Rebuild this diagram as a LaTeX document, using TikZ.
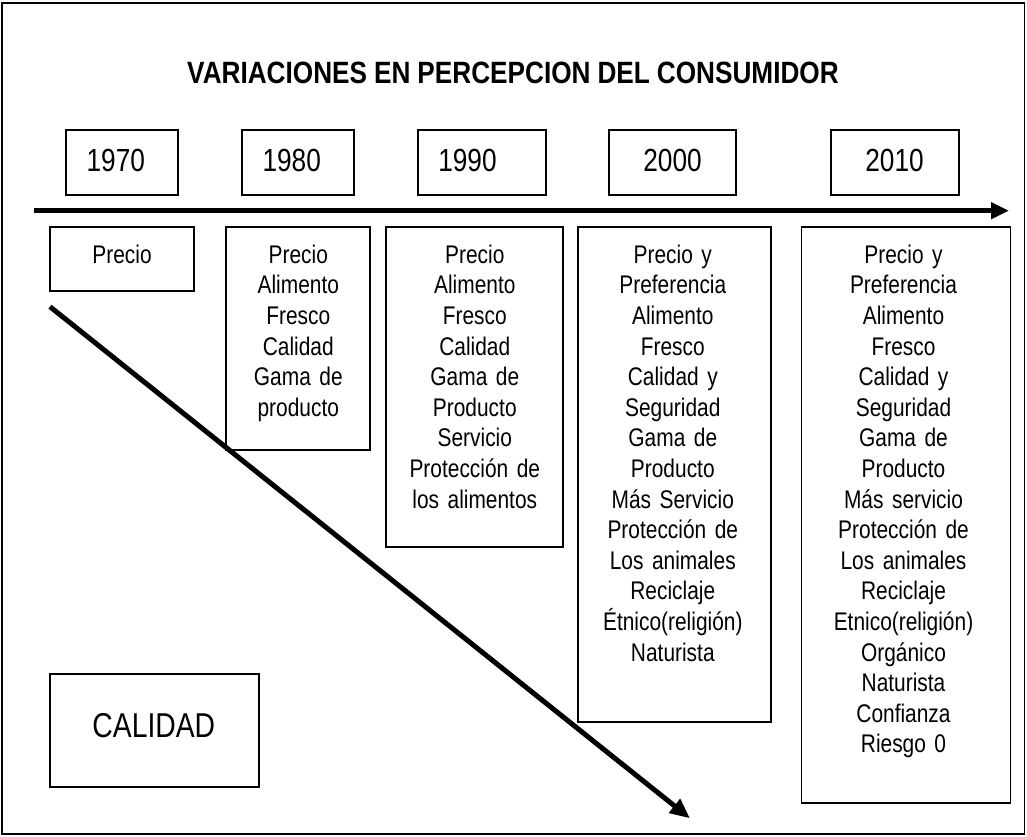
\documentclass[tikz,border=0pt]{standalone}
\usepackage{fontspec}
\setmainfont{Liberation Sans}[FakeStretch=0.82]
\newfontfamily\titlefont{Liberation Sans}[FakeStretch=0.85]
\newcommand{\myitemfont}{\fontsize{25.5}{30.6}\selectfont\spaceskip=5.2pt\relax}
\newcommand{\mytitlefont}{\titlefont\bfseries\fontsize{30.8}{36}\selectfont\spaceskip=7pt\relax}
\usetikzlibrary{arrows.meta}
\begin{document}
\begin{tikzpicture}[x=1pt,y=-1pt,
  frame/.style={draw, line width=1.5pt},
  box/.style={draw, line width=1.8pt, inner sep=0pt},
  yeartext/.style={inner sep=0pt, font=\fontsize{32}{38}\selectfont},
  itemtext/.style={inner sep=0pt, anchor=north, text width=#1, align=center,
    font=\myitemfont, execute at begin node=\strut},
  itemtext/.default=200pt,
  titletext/.style={inner sep=0pt, font=\mytitlefont},
  bigtext/.style={inner sep=0pt, font=\fontsize{34.5}{40}\selectfont},
  timearrow/.style={line width=5pt, -{Triangle[length=18pt,width=16pt]}},
  qualarrow/.style={line width=5pt, -{Triangle[length=20pt,width=17pt]}}
]
\useasboundingbox (0,0) rectangle (1027,836);
\draw[frame] (2,3) rectangle (1024.5,834);

% title
\node[titletext] (title) at (513,72.6) {VARIACIONES EN PERCEPCION DEL CONSUMIDOR};

% year boxes
\node[box, minimum width=112pt, minimum height=65pt] (y1970) at (122,162.5) {};
\node[box, minimum width=112pt, minimum height=65pt] (y1980) at (298,162.5) {};
\node[box, minimum width=128pt, minimum height=65pt] (y1990) at (482,162.5) {};
\node[box, minimum width=127pt, minimum height=65pt] (y2000) at (672.3,162.5) {};
\node[box, minimum width=128pt, minimum height=65pt] (y2010) at (895,162.5) {};
\node[yeartext] (t1970) at (115.8,160) {1970};
\node[yeartext] (t1980) at (291.7,160) {1980};
\node[yeartext] (t1990) at (467.5,160) {1990};
\node[yeartext] (t2000) at (672.5,160) {2000};
\node[yeartext] (t2010) at (894.5,160) {2010};

% time arrow
\coordinate (hA) at (34,210.7);
\coordinate (hB) at (1009,210.7);
\draw[timearrow] (hA) -- (hB);

% content boxes
\node[box, minimum width=144pt, minimum height=64pt] (c1970) at (122,259) {};
\node[box, minimum width=144pt, minimum height=223pt] (c1980) at (298.3,338.5) {};
\node[box, minimum width=177pt, minimum height=320pt] (c1990) at (474.3,387) {};
\node[box, minimum width=193pt, minimum height=495pt] (c2000) at (674.3,474.5) {};
\node[box, minimum width=209pt, minimum height=576pt] (c2010) at (906,515) {};

\node[itemtext=140pt] (i1970) at (122,241.6) {Precio};
\node[itemtext=140pt] (i1980) at (298.3,241.6) {Precio\\Alimento\\Fresco\\Calidad\\Gama de\\producto};
\node[itemtext=172pt] (i1990) at (474.8,241.6) {Precio\\Alimento\\Fresco\\Calidad\\Gama de\\Producto\\Servicio\\Protección de\\los alimentos};
\node[itemtext=188pt] (i2000) at (672.8,241.6) {Precio y\\Preferencia\\Alimento\\Fresco\\Calidad y\\Seguridad\\Gama de\\Producto\\Más Servicio\\Protección de\\Los animales\\Reciclaje\\Étnico(religión)\\Naturista};
\node[itemtext=204pt] (i2010) at (903.5,241.6) {Precio y\\Preferencia\\Alimento\\Fresco\\Calidad y\\Seguridad\\Gama de\\Producto\\Más servicio\\Protección de\\Los animales\\Reciclaje\\Etnico(religión)\\Orgánico\\Naturista\\Confianza\\Riesgo 0};

% calidad box
\node[box, minimum width=209pt, minimum height=113pt] (cal) at (154.5,730.5) {};
\node[bigtext] (caltext) at (153.8,725.8) {CALIDAD};

% quality arrow
\coordinate (dA) at (50,306.7);
\coordinate (dB) at (690,818.3);
\draw[qualarrow] (dA) -- (dB);
\end{tikzpicture}
\end{document}
